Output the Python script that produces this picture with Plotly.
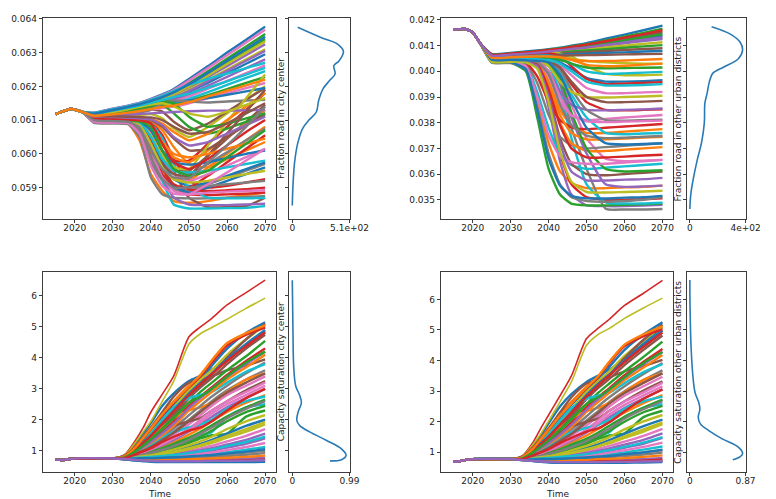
import plotly.graph_objects as go

TAB10 = ["#1f77b4", "#ff7f0e", "#2ca02c", "#d62728", "#9467bd",
         "#8c564b", "#e377c2", "#7f7f7f", "#bcbd22", "#17becf"]

# ---------------- Fraction road in city center (top-left) ----------------
years_cc = [2015, 2019, 2022, 2025, 2030, 2034, 2037, 2040, 2043, 2046, 2050, 2055, 2060, 2065, 2070]
start_cc = [0.06118, 0.06133, 0.06124]
runs_cc = [
    [0.06122, 0.06134, 0.06143, 0.06151, 0.06163, 0.06176, 0.06192, 0.06222, 0.06260, 0.06300, 0.06338, 0.06377],
    [0.06095, 0.06092, 0.06090, 0.06040, 0.05940, 0.05890, 0.05860, 0.05855, 0.05860, 0.05870, 0.05878, 0.05885],
    [0.06120, 0.06130, 0.06140, 0.06148, 0.06158, 0.06170, 0.06185, 0.06210, 0.06245, 0.06282, 0.06318, 0.06355],
    [0.06106, 0.06103, 0.06101, 0.06095, 0.06040, 0.05960, 0.05900, 0.05880, 0.05878, 0.05880, 0.05882, 0.05885],
    [0.06118, 0.06128, 0.06137, 0.06144, 0.06152, 0.06162, 0.06175, 0.06196, 0.06228, 0.06260, 0.06292, 0.06325],
    [0.06104, 0.06102, 0.06100, 0.06098, 0.06092, 0.06040, 0.05950, 0.05870, 0.05842, 0.05842, 0.05845, 0.05870],
    [0.06121, 0.06133, 0.06142, 0.06150, 0.06161, 0.06174, 0.06189, 0.06217, 0.06254, 0.06292, 0.06330, 0.06368],
    [0.06098, 0.06095, 0.06093, 0.06055, 0.05975, 0.05920, 0.05895, 0.05890, 0.05910, 0.05930, 0.05950, 0.05970],
    [0.06118, 0.06127, 0.06135, 0.06142, 0.06150, 0.06159, 0.06170, 0.06190, 0.06220, 0.06250, 0.06280, 0.06310],
    [0.06094, 0.06092, 0.06090, 0.06085, 0.06020, 0.05920, 0.05850, 0.05838, 0.05838, 0.05839, 0.05840, 0.05845],
    [0.06116, 0.06125, 0.06133, 0.06140, 0.06147, 0.06155, 0.06165, 0.06183, 0.06211, 0.06239, 0.06267, 0.06295],
    [0.06100, 0.06097, 0.06095, 0.06065, 0.06000, 0.05950, 0.05925, 0.05922, 0.05960, 0.06000, 0.06040, 0.06080],
    [0.06120, 0.06130, 0.06139, 0.06146, 0.06155, 0.06166, 0.06180, 0.06203, 0.06237, 0.06271, 0.06306, 0.06340],
    [0.06106, 0.06104, 0.06102, 0.06100, 0.06095, 0.06055, 0.05985, 0.05920, 0.05900, 0.05905, 0.05915, 0.05925],
    [0.06116, 0.06124, 0.06131, 0.06137, 0.06144, 0.06152, 0.06160, 0.06176, 0.06202, 0.06228, 0.06254, 0.06280],
    [0.06102, 0.06099, 0.06097, 0.06075, 0.06020, 0.05975, 0.05950, 0.05950, 0.05995, 0.06045, 0.06095, 0.06145],
    [0.06115, 0.06122, 0.06129, 0.06135, 0.06141, 0.06148, 0.06155, 0.06170, 0.06193, 0.06216, 0.06239, 0.06262],
    [0.06092, 0.06090, 0.06088, 0.06050, 0.05930, 0.05880, 0.05870, 0.05868, 0.05868, 0.05870, 0.05872, 0.05875],
    [0.06112, 0.06112, 0.06113, 0.06115, 0.06118, 0.06105, 0.06075, 0.06050, 0.06080, 0.06120, 0.06160, 0.06200],
    [0.06114, 0.06120, 0.06127, 0.06132, 0.06138, 0.06144, 0.06150, 0.06163, 0.06183, 0.06204, 0.06225, 0.06245],
    [0.06100, 0.06098, 0.06097, 0.06092, 0.06050, 0.05975, 0.05925, 0.05905, 0.05915, 0.05935, 0.05955, 0.05975],
    [0.06108, 0.06106, 0.06104, 0.06102, 0.06098, 0.06070, 0.06020, 0.05970, 0.05960, 0.05985, 0.06010, 0.06035],
    [0.06113, 0.06118, 0.06124, 0.06129, 0.06135, 0.06140, 0.06145, 0.06156, 0.06174, 0.06192, 0.06210, 0.06228],
    [0.06104, 0.06101, 0.06099, 0.06082, 0.06040, 0.06000, 0.05980, 0.05980, 0.06030, 0.06080, 0.06130, 0.06180],
    [0.06096, 0.06094, 0.06092, 0.06088, 0.06030, 0.05930, 0.05870, 0.05850, 0.05848, 0.05848, 0.05850, 0.05852],
    [0.06114, 0.06116, 0.06120, 0.06125, 0.06132, 0.06125, 0.06095, 0.06070, 0.06090, 0.06125, 0.06160, 0.06195],
    [0.06112, 0.06116, 0.06121, 0.06126, 0.06131, 0.06136, 0.06140, 0.06150, 0.06165, 0.06180, 0.06195, 0.06210],
    [0.06108, 0.06105, 0.06103, 0.06098, 0.06065, 0.06000, 0.05955, 0.05940, 0.05970, 0.06005, 0.06040, 0.06075],
    [0.06119, 0.06129, 0.06138, 0.06145, 0.06154, 0.06165, 0.06178, 0.06200, 0.06232, 0.06266, 0.06300, 0.06333],
    [0.06100, 0.06098, 0.06096, 0.06095, 0.06090, 0.06045, 0.05970, 0.05900, 0.05870, 0.05868, 0.05868, 0.05870],
    [0.06112, 0.06115, 0.06120, 0.06124, 0.06140, 0.06150, 0.06155, 0.06158, 0.06165, 0.06175, 0.06185, 0.06195],
    [0.06110, 0.06107, 0.06105, 0.06100, 0.06075, 0.06025, 0.05990, 0.05975, 0.06010, 0.06050, 0.06090, 0.06130],
    [0.06115, 0.06120, 0.06126, 0.06132, 0.06140, 0.06145, 0.06120, 0.06080, 0.06060, 0.06075, 0.06095, 0.06115],
    [0.06097, 0.06095, 0.06093, 0.06070, 0.06005, 0.05940, 0.05905, 0.05900, 0.05935, 0.05975, 0.06015, 0.06055],
    [0.06117, 0.06126, 0.06134, 0.06141, 0.06149, 0.06158, 0.06168, 0.06186, 0.06216, 0.06246, 0.06276, 0.06305],
    [0.06110, 0.06108, 0.06106, 0.06104, 0.06100, 0.06080, 0.06045, 0.06010, 0.06015, 0.06050, 0.06085, 0.06120],
    [0.06102, 0.06100, 0.06098, 0.06094, 0.06060, 0.05990, 0.05940, 0.05920, 0.05940, 0.05965, 0.05990, 0.06015],
    [0.06110, 0.06114, 0.06118, 0.06122, 0.06130, 0.06150, 0.06158, 0.06155, 0.06152, 0.06155, 0.06158, 0.06160],
    [0.06106, 0.06103, 0.06101, 0.06093, 0.06055, 0.05995, 0.05960, 0.05955, 0.06025, 0.06095, 0.06165, 0.06235],
    [0.06121, 0.06132, 0.06141, 0.06149, 0.06160, 0.06172, 0.06186, 0.06205, 0.06222, 0.06238, 0.06254, 0.06270],
    [0.06098, 0.06096, 0.06094, 0.06090, 0.06045, 0.05965, 0.05905, 0.05885, 0.05900, 0.05920, 0.05940, 0.05960],
    [0.06112, 0.06110, 0.06108, 0.06106, 0.06103, 0.06090, 0.06065, 0.06040, 0.06060, 0.06100, 0.06140, 0.06180],
    [0.06116, 0.06122, 0.06130, 0.06138, 0.06148, 0.06155, 0.06150, 0.06110, 0.06080, 0.06090, 0.06105, 0.06120],
    [0.06101, 0.06099, 0.06097, 0.06090, 0.06035, 0.05955, 0.05910, 0.05895, 0.05890, 0.05892, 0.05895, 0.05900],
    [0.06110, 0.06112, 0.06115, 0.06118, 0.06120, 0.06122, 0.06124, 0.06126, 0.06128, 0.06128, 0.06129, 0.06130],
    [0.06104, 0.06101, 0.06099, 0.06080, 0.06025, 0.05970, 0.05940, 0.05935, 0.05995, 0.06060, 0.06125, 0.06190],
    [0.06099, 0.06096, 0.06094, 0.06085, 0.06010, 0.05930, 0.05890, 0.05880, 0.05885, 0.05888, 0.05890, 0.05892],
    [0.06101, 0.06098, 0.06096, 0.06070, 0.05990, 0.05925, 0.05900, 0.05900, 0.05905, 0.05910, 0.05915, 0.05920],
    [0.06103, 0.06100, 0.06098, 0.06088, 0.06030, 0.05960, 0.05925, 0.05915, 0.05920, 0.05930, 0.05940, 0.05950],
    [0.06105, 0.06102, 0.06100, 0.06094, 0.06050, 0.05985, 0.05950, 0.05945, 0.05950, 0.05960, 0.05970, 0.05980],
    [0.06107, 0.06104, 0.06102, 0.06097, 0.06070, 0.06010, 0.05975, 0.05968, 0.05975, 0.05988, 0.06000, 0.06010],
    [0.06109, 0.06106, 0.06104, 0.06100, 0.06085, 0.06035, 0.06000, 0.05990, 0.06000, 0.06015, 0.06030, 0.06045],
    [0.06103, 0.06101, 0.06099, 0.06096, 0.06080, 0.06010, 0.05955, 0.05935, 0.05950, 0.05990, 0.06030, 0.06070],
    [0.06105, 0.06103, 0.06101, 0.06099, 0.06090, 0.06030, 0.05975, 0.05955, 0.05985, 0.06025, 0.06065, 0.06100],
    [0.06111, 0.06109, 0.06107, 0.06105, 0.06102, 0.06085, 0.06050, 0.06025, 0.06035, 0.06060, 0.06085, 0.06110],
    [0.06113, 0.06111, 0.06110, 0.06109, 0.06108, 0.06100, 0.06080, 0.06060, 0.06065, 0.06090, 0.06120, 0.06150],
    [0.06095, 0.06093, 0.06091, 0.06060, 0.05965, 0.05905, 0.05882, 0.05880, 0.05910, 0.05945, 0.05980, 0.06015],
    [0.06100, 0.06097, 0.06095, 0.06078, 0.06010, 0.05955, 0.05930, 0.05928, 0.05975, 0.06025, 0.06080, 0.06140],
    [0.06117, 0.06124, 0.06132, 0.06139, 0.06146, 0.06150, 0.06140, 0.06120, 0.06110, 0.06125, 0.06145, 0.06165],
    [0.06118, 0.06128, 0.06136, 0.06143, 0.06151, 0.06160, 0.06168, 0.06178, 0.06196, 0.06215, 0.06235, 0.06255],
    [0.06119, 0.06130, 0.06139, 0.06147, 0.06157, 0.06168, 0.06182, 0.06206, 0.06240, 0.06276, 0.06311, 0.06347],
    [0.06113, 0.06117, 0.06122, 0.06127, 0.06133, 0.06139, 0.06143, 0.06153, 0.06170, 0.06187, 0.06203, 0.06220],
]
kde_cc_value = [0.05847, 0.05905, 0.05973, 0.06031, 0.06075, 0.06100, 0.06124, 0.06158, 0.06193, 0.06217,
                0.06237, 0.06261, 0.06276, 0.06303, 0.06325, 0.06344, 0.06375]
kde_cc_density = [0, 6, 20, 48, 92, 148, 214, 235, 275, 332, 382, 370, 418, 456, 403, 260, 48]

# ---------------- Fraction road in other urban districts (top-right) ----------------
years_od = [2015, 2018, 2020, 2022, 2025, 2030, 2034, 2037, 2040, 2043, 2046, 2050, 2055, 2060, 2065, 2070]
start_od = [0.04162, 0.04165, 0.04152, 0.04108]
runs_od = [
    [0.04068, 0.04072, 0.04077, 0.04081, 0.04086, 0.04092, 0.04100, 0.04110, 0.04127, 0.04143, 0.04160, 0.04178],
    [0.04040, 0.04038, 0.04015, 0.03880, 0.03720, 0.03610, 0.03565, 0.03545, 0.03545, 0.03548, 0.03550, 0.03555],
    [0.04066, 0.04070, 0.04075, 0.04079, 0.04084, 0.04090, 0.04097, 0.04106, 0.04120, 0.04135, 0.04150, 0.04166],
    [0.04040, 0.04040, 0.04038, 0.04020, 0.03880, 0.03680, 0.03560, 0.03510, 0.03500, 0.03500, 0.03502, 0.03505],
    [0.04038, 0.04038, 0.04036, 0.04018, 0.03860, 0.03650, 0.03520, 0.03478, 0.03475, 0.03475, 0.03477, 0.03480],
    [0.04064, 0.04068, 0.04073, 0.04077, 0.04082, 0.04087, 0.04093, 0.04101, 0.04113, 0.04126, 0.04139, 0.04152],
    [0.04044, 0.04044, 0.04042, 0.04040, 0.04033, 0.03980, 0.03870, 0.03740, 0.03660, 0.03650, 0.03652, 0.03655],
    [0.04040, 0.04040, 0.04038, 0.04035, 0.04025, 0.03950, 0.03780, 0.03620, 0.03465, 0.03462, 0.03462, 0.03464],
    [0.04060, 0.04064, 0.04068, 0.04072, 0.04076, 0.04075, 0.04060, 0.04020, 0.03990, 0.03985, 0.03985, 0.03987],
    [0.04042, 0.04040, 0.04025, 0.03920, 0.03780, 0.03680, 0.03635, 0.03620, 0.03625, 0.03630, 0.03635, 0.03640],
    [0.04062, 0.04066, 0.04071, 0.04075, 0.04079, 0.04084, 0.04089, 0.04096, 0.04106, 0.04117, 0.04128, 0.04139],
    [0.04046, 0.04046, 0.04044, 0.04035, 0.03960, 0.03850, 0.03790, 0.03760, 0.03760, 0.03765, 0.03770, 0.03775],
    [0.04036, 0.04034, 0.04000, 0.03820, 0.03620, 0.03520, 0.03485, 0.03478, 0.03478, 0.03480, 0.03482, 0.03485],
    [0.04048, 0.04048, 0.04046, 0.04044, 0.04040, 0.04010, 0.03950, 0.03880, 0.03850, 0.03848, 0.03850, 0.03852],
    [0.04060, 0.04064, 0.04068, 0.04072, 0.04076, 0.04080, 0.04085, 0.04091, 0.04100, 0.04109, 0.04118, 0.04126],
    [0.04042, 0.04042, 0.04040, 0.04025, 0.03910, 0.03740, 0.03640, 0.03600, 0.03595, 0.03600, 0.03605, 0.03610],
    [0.04050, 0.04050, 0.04048, 0.04046, 0.04043, 0.04025, 0.03985, 0.03935, 0.03915, 0.03915, 0.03918, 0.03920],
    [0.04044, 0.04042, 0.04030, 0.03955, 0.03830, 0.03745, 0.03712, 0.03700, 0.03705, 0.03710, 0.03715, 0.03720],
    [0.04058, 0.04062, 0.04066, 0.04069, 0.04073, 0.04077, 0.04081, 0.04086, 0.04093, 0.04100, 0.04107, 0.04113],
    [0.04036, 0.04036, 0.04034, 0.04032, 0.04020, 0.03920, 0.03740, 0.03560, 0.03490, 0.03485, 0.03485, 0.03488],
    [0.04052, 0.04052, 0.04050, 0.04049, 0.04047, 0.04035, 0.04010, 0.03975, 0.03960, 0.03960, 0.03962, 0.03965],
    [0.04044, 0.04044, 0.04042, 0.04030, 0.03940, 0.03800, 0.03720, 0.03690, 0.03690, 0.03695, 0.03700, 0.03705],
    [0.04056, 0.04060, 0.04064, 0.04067, 0.04070, 0.04073, 0.04077, 0.04081, 0.04086, 0.04092, 0.04097, 0.04102],
    [0.04046, 0.04045, 0.04035, 0.03980, 0.03880, 0.03810, 0.03782, 0.03775, 0.03780, 0.03785, 0.03790, 0.03795],
    [0.04042, 0.04042, 0.04040, 0.04038, 0.04030, 0.03960, 0.03820, 0.03680, 0.03560, 0.03550, 0.03552, 0.03555],
    [0.04054, 0.04058, 0.04062, 0.04064, 0.04067, 0.04070, 0.04072, 0.04075, 0.04079, 0.04083, 0.04087, 0.04090],
    [0.04048, 0.04048, 0.04046, 0.04040, 0.03980, 0.03880, 0.03830, 0.03810, 0.03815, 0.03820, 0.03825, 0.03830],
    [0.04034, 0.04032, 0.04010, 0.03860, 0.03680, 0.03560, 0.03510, 0.03495, 0.03492, 0.03495, 0.03500, 0.03510],
    [0.04055, 0.04060, 0.04065, 0.04070, 0.04075, 0.04070, 0.04050, 0.04040, 0.04035, 0.04032, 0.04030, 0.04030],
    [0.04046, 0.04046, 0.04044, 0.04042, 0.04036, 0.03995, 0.03910, 0.03820, 0.03760, 0.03755, 0.03758, 0.03760],
    [0.04052, 0.04056, 0.04059, 0.04061, 0.04063, 0.04065, 0.04067, 0.04069, 0.04072, 0.04074, 0.04077, 0.04079],
    [0.04045, 0.04045, 0.04043, 0.04030, 0.03950, 0.03830, 0.03760, 0.03735, 0.03735, 0.03738, 0.03742, 0.03745],
    [0.04038, 0.04038, 0.04036, 0.04034, 0.04028, 0.03970, 0.03840, 0.03700, 0.03620, 0.03610, 0.03612, 0.03615],
    [0.04058, 0.04062, 0.04066, 0.04070, 0.04072, 0.04060, 0.04020, 0.03970, 0.03950, 0.03952, 0.03955, 0.03958],
    [0.04050, 0.04050, 0.04048, 0.04044, 0.04000, 0.03920, 0.03870, 0.03850, 0.03848, 0.03850, 0.03852, 0.03855],
    [0.04050, 0.04053, 0.04056, 0.04058, 0.04060, 0.04061, 0.04062, 0.04063, 0.04064, 0.04066, 0.04067, 0.04068],
    [0.04040, 0.04038, 0.04020, 0.03900, 0.03750, 0.03670, 0.03645, 0.03640, 0.03640, 0.03645, 0.03650, 0.03655],
    [0.04048, 0.04048, 0.04046, 0.04043, 0.04038, 0.04005, 0.03930, 0.03850, 0.03810, 0.03808, 0.03810, 0.03812],
    [0.04052, 0.04052, 0.04050, 0.04047, 0.04020, 0.03960, 0.03920, 0.03900, 0.03898, 0.03900, 0.03902, 0.03905],
    [0.04054, 0.04056, 0.04058, 0.04060, 0.04060, 0.04050, 0.04030, 0.04000, 0.03990, 0.03992, 0.03995, 0.03998],
    [0.04038, 0.04036, 0.04008, 0.03850, 0.03660, 0.03555, 0.03515, 0.03505, 0.03505, 0.03508, 0.03510, 0.03515],
    [0.04050, 0.04052, 0.04054, 0.04055, 0.04056, 0.04052, 0.04045, 0.04040, 0.04040, 0.04042, 0.04045, 0.04048],
    [0.04047, 0.04049, 0.04051, 0.04052, 0.04053, 0.04045, 0.04030, 0.04015, 0.04012, 0.04013, 0.04014, 0.04015],
    [0.04041, 0.04041, 0.04039, 0.04030, 0.03930, 0.03790, 0.03700, 0.03665, 0.03665, 0.03668, 0.03672, 0.03675],
    [0.04039, 0.04039, 0.04037, 0.04020, 0.03900, 0.03720, 0.03610, 0.03575, 0.03575, 0.03578, 0.03580, 0.03585],
    [0.04049, 0.04049, 0.04047, 0.04045, 0.04041, 0.04015, 0.03960, 0.03900, 0.03880, 0.03880, 0.03882, 0.03885],
    [0.04047, 0.04047, 0.04045, 0.04040, 0.04000, 0.03900, 0.03830, 0.03805, 0.03802, 0.03804, 0.03806, 0.03808],
    [0.04043, 0.04043, 0.04041, 0.04036, 0.03990, 0.03870, 0.03790, 0.03750, 0.03740, 0.03742, 0.03745, 0.03748],
    [0.04037, 0.04037, 0.04035, 0.04010, 0.03880, 0.03690, 0.03570, 0.03530, 0.03528, 0.03530, 0.03532, 0.03535],
    [0.04051, 0.04051, 0.04049, 0.04047, 0.04044, 0.04030, 0.04000, 0.03960, 0.03945, 0.03945, 0.03947, 0.03950],
    [0.04045, 0.04045, 0.04043, 0.04041, 0.04035, 0.03985, 0.03890, 0.03780, 0.03720, 0.03715, 0.03717, 0.03720],
    [0.04053, 0.04055, 0.04057, 0.04058, 0.04058, 0.04055, 0.04045, 0.04025, 0.04020, 0.04022, 0.04026, 0.04030],
    [0.04063, 0.04067, 0.04071, 0.04075, 0.04080, 0.04085, 0.04090, 0.04098, 0.04108, 0.04120, 0.04132, 0.04145],
    [0.04065, 0.04069, 0.04074, 0.04078, 0.04083, 0.04088, 0.04095, 0.04104, 0.04117, 0.04131, 0.04145, 0.04160],
    [0.04061, 0.04065, 0.04069, 0.04073, 0.04077, 0.04082, 0.04087, 0.04093, 0.04103, 0.04113, 0.04123, 0.04132],
]
kde_od_value = [0.03464, 0.03522, 0.03579, 0.03657, 0.03722, 0.03799, 0.03876, 0.03914, 0.03959, 0.03992,
                0.04017, 0.04049, 0.04084, 0.04114, 0.04146, 0.04174]
kde_od_density = [0, 7, 24, 54, 84, 104, 108, 124, 140, 164, 244, 348, 379, 360, 288, 156]

# ---------------- Capacity saturation city center (bottom-left) ----------------
years_cs = [2015, 2017, 2019, 2030, 2033, 2036, 2038, 2040, 2043, 2046, 2050, 2053, 2056, 2060, 2065, 2070]
start_cc_sat = [0.71, 0.70, 0.74, 0.75]
runs_cc_sat = [
    [0.84, 1.25, 1.55, 1.90, 2.45, 2.85, 3.25, 3.42, 3.62, 3.95, 4.40, 4.85],
    [0.82, 1.15, 1.45, 1.75, 2.20, 2.60, 3.10, 3.40, 3.90, 4.45, 4.75, 5.00],
    [0.74, 0.80, 0.85, 0.90, 0.98, 1.08, 1.25, 1.40, 1.50, 1.55, 2.10, 2.30],
    [0.86, 1.35, 1.75, 2.25, 2.83, 3.42, 4.68, 5.00, 5.28, 5.71, 6.11, 6.51],
    [0.73, 0.72, 0.71, 0.70, 0.70, 0.70, 0.70, 0.71, 0.71, 0.72, 0.74, 0.77],
    [0.79, 1.02, 1.22, 1.42, 1.80, 2.20, 2.70, 3.05, 3.35, 3.80, 4.30, 4.75],
    [0.74, 0.78, 0.80, 0.82, 0.86, 0.91, 0.99, 1.07, 1.16, 1.30, 1.48, 1.70],
    [0.76, 0.91, 1.02, 1.15, 1.38, 1.62, 2.00, 2.30, 2.60, 2.95, 3.30, 3.60],
    [0.84, 1.28, 1.62, 1.95, 2.60, 3.25, 4.45, 4.78, 4.98, 5.25, 5.60, 5.93],
    [0.74, 0.75, 0.76, 0.77, 0.78, 0.80, 0.83, 0.86, 0.89, 0.95, 1.03, 1.12],
    [0.80, 1.10, 1.38, 1.65, 2.10, 2.50, 3.00, 3.35, 3.75, 4.30, 4.80, 5.15],
    [0.75, 0.84, 0.91, 0.99, 1.12, 1.28, 1.52, 1.72, 1.95, 2.25, 2.55, 2.80],
    [0.72, 0.69, 0.67, 0.66, 0.65, 0.65, 0.65, 0.65, 0.65, 0.65, 0.66, 0.67],
    [0.78, 0.98, 1.14, 1.30, 1.60, 1.95, 2.45, 2.75, 3.05, 3.45, 3.90, 4.30],
    [0.74, 0.76, 0.78, 0.79, 0.82, 0.85, 0.90, 0.95, 1.00, 1.10, 1.22, 1.40],
    [0.82, 1.15, 1.45, 1.75, 2.25, 2.75, 3.20, 3.30, 3.40, 3.60, 3.75, 3.95],
    [0.76, 0.89, 0.99, 1.10, 1.30, 1.52, 1.85, 2.15, 2.45, 2.80, 3.10, 3.40],
    [0.74, 0.74, 0.74, 0.74, 0.75, 0.76, 0.77, 0.78, 0.80, 0.83, 0.87, 0.92],
    [0.80, 1.08, 1.32, 1.58, 2.00, 2.40, 2.95, 3.30, 3.60, 4.10, 4.60, 5.05],
    [0.75, 0.82, 0.88, 0.94, 1.05, 1.18, 1.38, 1.50, 1.60, 2.10, 2.40, 2.50],
    [0.74, 0.79, 0.83, 0.86, 0.92, 1.00, 1.12, 1.22, 1.35, 1.55, 1.80, 2.00],
    [0.78, 1.00, 1.20, 1.40, 1.75, 2.05, 2.30, 2.40, 2.55, 2.90, 3.30, 3.50],
    [0.78, 1.00, 1.18, 1.36, 1.70, 2.05, 2.55, 2.90, 3.20, 3.60, 4.05, 4.55],
    [0.73, 0.71, 0.69, 0.68, 0.67, 0.67, 0.67, 0.67, 0.68, 0.68, 0.69, 0.71],
    [0.75, 0.85, 0.93, 1.02, 1.18, 1.35, 1.62, 1.85, 2.10, 2.40, 2.70, 3.00],
    [0.78, 0.98, 1.15, 1.35, 1.70, 2.10, 2.70, 3.10, 3.45, 4.00, 4.60, 5.10],
    [0.74, 0.76, 0.77, 0.78, 0.80, 0.82, 0.86, 0.90, 0.94, 1.02, 1.12, 1.25],
    [0.77, 0.93, 1.06, 1.20, 1.45, 1.72, 2.15, 2.45, 2.75, 3.10, 3.50, 3.85],
    [0.74, 0.80, 0.84, 0.88, 0.95, 1.04, 1.18, 1.30, 1.45, 1.70, 1.95, 2.15],
    [0.80, 1.05, 1.30, 1.55, 2.00, 2.40, 2.70, 2.80, 2.90, 3.20, 3.55, 3.80],
    [0.79, 1.05, 1.28, 1.50, 1.90, 2.30, 2.85, 3.20, 3.50, 3.95, 4.45, 4.90],
    [0.74, 0.73, 0.72, 0.72, 0.72, 0.72, 0.73, 0.74, 0.75, 0.77, 0.80, 0.84],
    [0.75, 0.83, 0.89, 0.96, 1.08, 1.22, 1.42, 1.60, 1.82, 2.10, 2.40, 2.65],
    [0.81, 1.12, 1.40, 1.70, 2.15, 2.55, 3.05, 3.40, 3.85, 4.40, 4.75, 4.98],
    [0.74, 0.77, 0.79, 0.81, 0.84, 0.88, 0.95, 1.01, 1.08, 1.20, 1.35, 1.55],
    [0.77, 0.95, 1.12, 1.30, 1.60, 1.80, 1.95, 2.05, 2.30, 2.60, 2.95, 3.25],
    [0.76, 0.87, 0.96, 1.06, 1.24, 1.43, 1.72, 2.00, 2.30, 2.60, 2.90, 3.20],
    [0.74, 0.75, 0.75, 0.76, 0.77, 0.78, 0.80, 0.82, 0.84, 0.88, 0.94, 1.00],
    [0.74, 0.78, 0.81, 0.84, 0.89, 0.95, 1.05, 1.15, 1.25, 1.42, 1.62, 1.85],
    [0.76, 0.92, 1.05, 1.20, 1.45, 1.60, 1.75, 1.85, 2.00, 2.35, 2.60, 2.75],
    [0.72, 0.68, 0.66, 0.64, 0.63, 0.63, 0.63, 0.63, 0.63, 0.63, 0.63, 0.64],
    [0.77, 0.95, 1.10, 1.25, 1.50, 1.80, 2.30, 2.60, 2.90, 3.30, 3.70, 4.10],
    [0.75, 0.81, 0.86, 0.92, 1.02, 1.12, 1.30, 1.45, 1.65, 1.95, 2.25, 2.45],
    [0.79, 1.03, 1.25, 1.48, 1.88, 2.28, 2.80, 3.15, 3.48, 3.90, 4.38, 4.82],
    [0.77, 0.96, 1.12, 1.28, 1.56, 1.88, 2.38, 2.70, 3.00, 3.38, 3.80, 4.20],
    [0.76, 0.90, 1.00, 1.12, 1.34, 1.58, 1.95, 2.25, 2.55, 2.88, 3.20, 3.50],
    [0.75, 0.86, 0.95, 1.04, 1.21, 1.40, 1.68, 1.92, 2.20, 2.50, 2.80, 3.10],
    [0.75, 0.82, 0.87, 0.93, 1.03, 1.15, 1.35, 1.55, 1.75, 2.05, 2.35, 2.60],
    [0.74, 0.79, 0.82, 0.85, 0.90, 0.97, 1.08, 1.18, 1.30, 1.48, 1.70, 1.92],
    [0.74, 0.77, 0.78, 0.80, 0.83, 0.86, 0.92, 0.98, 1.04, 1.15, 1.28, 1.45],
    [0.74, 0.75, 0.76, 0.76, 0.77, 0.79, 0.81, 0.84, 0.86, 0.91, 0.97, 1.05],
    [0.81, 1.12, 1.42, 1.72, 2.18, 2.58, 3.08, 3.45, 3.92, 4.48, 4.80, 5.05],
    [0.78, 0.99, 1.17, 1.37, 1.72, 2.08, 2.55, 2.75, 3.00, 3.40, 3.85, 4.20],
    [0.76, 0.88, 0.98, 1.08, 1.28, 1.45, 1.65, 1.75, 1.95, 2.30, 2.70, 3.00],
    [0.73, 0.70, 0.68, 0.67, 0.66, 0.66, 0.66, 0.66, 0.67, 0.67, 0.68, 0.69],
]
kde_ccs_value = [0.67, 0.71, 0.85, 1.06, 1.33, 1.60, 1.81, 1.97, 2.24, 2.56, 2.83, 3.09, 3.73, 4.80, 6.51]
kde_ccs_density = [0.653, 0.851, 0.931, 0.851, 0.594, 0.307, 0.129, 0.079, 0.099, 0.158, 0.119, 0.059, 0.024, 0.012, 0.0]

# ---------------- Capacity saturation other urban districts (bottom-right) ----------------
start_od_sat = [0.69, 0.72, 0.77, 0.78]
runs_od_sat = [
    [0.85, 1.25, 1.55, 1.95, 2.50, 2.90, 3.30, 3.50, 3.70, 4.05, 4.55, 5.10],
    [0.84, 1.18, 1.48, 1.78, 2.25, 2.65, 3.15, 3.45, 3.95, 4.50, 4.82, 5.08],
    [0.76, 0.82, 0.87, 0.92, 1.00, 1.11, 1.28, 1.44, 1.55, 1.62, 2.15, 2.36],
    [0.88, 1.35, 1.80, 2.22, 2.85, 3.50, 4.72, 5.05, 5.35, 5.80, 6.20, 6.62],
    [0.76, 0.75, 0.74, 0.73, 0.73, 0.73, 0.73, 0.74, 0.75, 0.76, 0.78, 0.82],
    [0.81, 1.04, 1.24, 1.45, 1.83, 2.23, 2.74, 3.10, 3.40, 3.85, 4.35, 4.82],
    [0.76, 0.80, 0.82, 0.84, 0.88, 0.94, 1.02, 1.11, 1.21, 1.35, 1.54, 1.77],
    [0.78, 0.93, 1.04, 1.17, 1.40, 1.65, 2.04, 2.34, 2.65, 3.00, 3.36, 3.68],
    [0.86, 1.28, 1.62, 2.02, 2.65, 3.30, 4.50, 4.85, 5.05, 5.38, 5.72, 6.04],
    [0.76, 0.77, 0.78, 0.79, 0.80, 0.83, 0.86, 0.90, 0.93, 1.00, 1.09, 1.19],
    [0.82, 1.12, 1.40, 1.68, 2.12, 2.55, 3.05, 3.40, 3.80, 4.35, 4.85, 5.25],
    [0.77, 0.86, 0.93, 1.01, 1.14, 1.31, 1.55, 1.76, 2.00, 2.30, 2.61, 2.87],
    [0.75, 0.72, 0.70, 0.69, 0.68, 0.68, 0.68, 0.68, 0.68, 0.69, 0.70, 0.72],
    [0.80, 1.00, 1.16, 1.32, 1.62, 1.97, 2.48, 2.80, 3.10, 3.52, 3.96, 4.38],
    [0.76, 0.78, 0.80, 0.81, 0.84, 0.88, 0.93, 0.99, 1.05, 1.15, 1.28, 1.47],
    [0.84, 1.18, 1.48, 1.78, 2.30, 2.80, 3.25, 3.35, 3.45, 3.65, 3.82, 4.02],
    [0.78, 0.91, 1.01, 1.12, 1.32, 1.55, 1.88, 2.19, 2.50, 2.85, 3.16, 3.47],
    [0.76, 0.76, 0.76, 0.76, 0.77, 0.79, 0.80, 0.82, 0.84, 0.88, 0.93, 0.99],
    [0.82, 1.10, 1.35, 1.60, 2.02, 2.42, 2.98, 3.32, 3.65, 4.15, 4.65, 5.12],
    [0.77, 0.84, 0.90, 0.96, 1.07, 1.21, 1.41, 1.54, 1.66, 2.15, 2.45, 2.57],
    [0.76, 0.81, 0.85, 0.88, 0.94, 1.03, 1.15, 1.26, 1.40, 1.60, 1.86, 2.07],
    [0.80, 1.03, 1.23, 1.44, 1.79, 2.10, 2.35, 2.45, 2.62, 2.97, 3.37, 3.58],
    [0.80, 1.02, 1.20, 1.38, 1.72, 2.08, 2.58, 2.94, 3.25, 3.65, 4.12, 4.62],
    [0.75, 0.74, 0.72, 0.71, 0.70, 0.70, 0.70, 0.71, 0.72, 0.72, 0.73, 0.76],
    [0.77, 0.87, 0.95, 1.04, 1.20, 1.38, 1.65, 1.89, 2.15, 2.45, 2.76, 3.06],
    [0.80, 1.01, 1.18, 1.38, 1.74, 2.15, 2.76, 3.16, 3.52, 4.08, 4.68, 5.18],
    [0.76, 0.78, 0.79, 0.80, 0.82, 0.85, 0.89, 0.94, 0.99, 1.07, 1.18, 1.32],
    [0.79, 0.95, 1.08, 1.22, 1.47, 1.75, 2.18, 2.50, 2.80, 3.16, 3.56, 3.92],
    [0.76, 0.82, 0.86, 0.90, 0.97, 1.07, 1.21, 1.34, 1.50, 1.75, 2.01, 2.22],
    [0.82, 1.08, 1.33, 1.58, 2.04, 2.44, 2.75, 2.85, 2.95, 3.26, 3.62, 3.88],
    [0.81, 1.07, 1.30, 1.52, 1.92, 2.32, 2.88, 3.24, 3.55, 4.00, 4.50, 4.98],
    [0.76, 0.75, 0.75, 0.75, 0.75, 0.75, 0.76, 0.78, 0.79, 0.81, 0.85, 0.90],
    [0.77, 0.85, 0.91, 0.98, 1.10, 1.25, 1.45, 1.64, 1.87, 2.16, 2.46, 2.72],
    [0.83, 1.15, 1.43, 1.74, 2.20, 2.60, 3.10, 3.45, 3.92, 4.47, 4.80, 5.02],
    [0.76, 0.79, 0.81, 0.83, 0.86, 0.91, 0.98, 1.05, 1.13, 1.25, 1.41, 1.62],
    [0.79, 0.98, 1.15, 1.33, 1.64, 1.84, 2.00, 2.10, 2.36, 2.67, 3.02, 3.32],
    [0.78, 0.89, 0.98, 1.08, 1.26, 1.46, 1.75, 2.04, 2.35, 2.66, 2.96, 3.27],
    [0.76, 0.77, 0.77, 0.78, 0.79, 0.81, 0.83, 0.86, 0.88, 0.93, 1.00, 1.07],
    [0.76, 0.80, 0.83, 0.86, 0.91, 0.98, 1.08, 1.19, 1.30, 1.47, 1.68, 1.92],
    [0.78, 0.95, 1.08, 1.23, 1.49, 1.65, 1.80, 1.90, 2.06, 2.42, 2.67, 2.82],
    [0.75, 0.71, 0.69, 0.67, 0.66, 0.66, 0.66, 0.66, 0.66, 0.66, 0.67, 0.68],
    [0.79, 0.97, 1.12, 1.27, 1.52, 1.82, 2.33, 2.64, 2.95, 3.36, 3.77, 4.18],
    [0.77, 0.83, 0.88, 0.94, 1.04, 1.15, 1.33, 1.49, 1.70, 2.00, 2.31, 2.52],
    [0.81, 1.05, 1.27, 1.50, 1.90, 2.30, 2.83, 3.18, 3.52, 3.95, 4.45, 4.92],
    [0.79, 0.98, 1.14, 1.30, 1.58, 1.90, 2.40, 2.73, 3.05, 3.44, 3.88, 4.28],
    [0.78, 0.92, 1.02, 1.14, 1.36, 1.60, 1.98, 2.28, 2.60, 2.94, 3.27, 3.58],
    [0.77, 0.88, 0.97, 1.06, 1.23, 1.42, 1.70, 1.95, 2.24, 2.55, 2.86, 3.16],
    [0.77, 0.84, 0.89, 0.95, 1.05, 1.17, 1.37, 1.57, 1.78, 2.10, 2.41, 2.67],
    [0.76, 0.81, 0.84, 0.87, 0.92, 0.99, 1.10, 1.20, 1.33, 1.52, 1.75, 1.98],
    [0.76, 0.79, 0.80, 0.82, 0.85, 0.88, 0.94, 1.00, 1.07, 1.18, 1.32, 1.50],
    [0.76, 0.77, 0.78, 0.78, 0.79, 0.81, 0.83, 0.86, 0.88, 0.94, 1.00, 1.09],
    [0.83, 1.14, 1.44, 1.74, 2.20, 2.60, 3.12, 3.48, 3.96, 4.52, 4.86, 5.12],
    [0.80, 1.01, 1.19, 1.39, 1.74, 2.10, 2.58, 2.80, 3.05, 3.46, 3.92, 4.28],
    [0.78, 0.90, 1.00, 1.10, 1.30, 1.47, 1.68, 1.78, 1.98, 2.34, 2.75, 3.06],
    [0.75, 0.72, 0.70, 0.69, 0.68, 0.68, 0.68, 0.68, 0.69, 0.69, 0.70, 0.71],
]
kde_ods_value = [0.76, 0.85, 0.96, 1.17, 1.44, 1.71, 1.93, 2.14, 2.42, 2.63, 2.95, 3.39, 4.36, 5.76, 6.63]
kde_ods_density = [0.670, 0.783, 0.824, 0.757, 0.505, 0.296, 0.165, 0.131, 0.157, 0.139, 0.082, 0.052, 0.021, 0.003, 0.0]

# indices (in the bottom lists) of the two outlying runs drawn thinner
outlier_runs = [3, 8]

# ---------------- layout geometry (pixels of the 776x499 canvas) ----------------
W, H = 776, 499
FONT = "DejaVu Sans"
TXT = "#222222"
EDGE = "#3c3c3c"
LW = 2.4


def px_x(a, b):
    return [a / W, b / W]


def px_y(top, bottom):
    return [1 - bottom / H, 1 - top / H]


fig = go.Figure()


def add_runs(years, start, runs, xa, ya, smooth, thin=()):
    for i, r in enumerate(runs):
        fig.add_trace(go.Scatter(
            x=years, y=start + r, mode="lines",
            line=dict(color=TAB10[i % 10], width=1.6 if i in thin else LW,
                      shape="spline", smoothing=smooth),
            xaxis=xa, yaxis=ya, hoverinfo="skip", showlegend=False))


def add_kde(dens, vals, xa, ya):
    fig.add_trace(go.Scatter(
        x=dens, y=vals, mode="lines",
        line=dict(color="#2a7ab5", width=1.6, shape="spline", smoothing=1.0),
        xaxis=xa, yaxis=ya, hoverinfo="skip", showlegend=False))


add_runs(years_cc, start_cc, runs_cc, "x", "y", 0.5)
add_kde(kde_cc_density, kde_cc_value, "x2", "y2")
add_runs(years_od, start_od, runs_od, "x3", "y3", 0.5)
add_kde(kde_od_density, kde_od_value, "x4", "y4")
add_runs(years_cs, start_cc_sat, runs_cc_sat, "x5", "y5", 0.7, outlier_runs)
add_kde(kde_ccs_density, kde_ccs_value, "x6", "y6")
add_runs(years_cs, start_od_sat, runs_od_sat, "x7", "y7", 0.7, outlier_runs)
add_kde(kde_ods_density, kde_ods_value, "x8", "y8")

base = dict(showline=True, linecolor=EDGE, linewidth=1, mirror=True,
            ticks="outside", ticklen=3.5, tickwidth=1, tickcolor=EDGE,
            showgrid=False, zeroline=False,
            tickfont=dict(family=FONT, size=9, color=TXT))

year_ticks = [2020, 2030, 2040, 2050, 2060, 2070]
yticks_cc = [0.059, 0.060, 0.061, 0.062, 0.063, 0.064]
yticks_od = [0.035, 0.036, 0.037, 0.038, 0.039, 0.040, 0.041, 0.042]
yticks_sat = [1, 2, 3, 4, 5, 6]

top_y = px_y(14.3, 216.7)
bot_y = px_y(270, 471.7)
left_main = px_x(44.3, 282.7)
left_side = px_x(296.7, 358.3)
right_main = px_x(452.3, 690)
right_side = px_x(704.3, 764.3)

panels = [
    (1, left_main, left_side, top_y, [0.05807, 0.06402], yticks_cc, ".3f", 510, "5.1e+02"),
    (3, right_main, right_side, top_y, [0.03425, 0.04207], yticks_od, ".3f", 400, "4e+02"),
    (5, left_main, left_side, bot_y, [0.314, 6.78], yticks_sat, "d", 0.99, "0.99"),
    (7, right_main, right_side, bot_y, [0.36, 6.90], yticks_sat, "d", 0.87, "0.87"),
]

lay = {}
for n, mdom, sdom, ydom, yr, yt, fmt, smax, slab in panels:
    mx = "xaxis" if n == 1 else "xaxis%d" % n
    my = "yaxis" if n == 1 else "yaxis%d" % n
    sx = "xaxis%d" % (n + 1)
    sy = "yaxis%d" % (n + 1)
    lay[mx] = dict(base, domain=mdom, range=[2011.7, 2072.8], tickvals=year_ticks,
                   ticklabelstandoff=-3, anchor="y" if n == 1 else "y%d" % n)
    lay[my] = dict(base, domain=ydom, range=yr, tickvals=yt, tickformat=fmt,
                   anchor="x" if n == 1 else "x%d" % n)
    lay[sx] = dict(base, domain=sdom, range=[-0.05 * smax, smax * 1.0005],
                   tickvals=[0, smax], ticktext=["0", slab], ticklabelstandoff=-3,
                   anchor="y%d" % (n + 1))
    lay[sy] = dict(base, domain=ydom, range=yr, tickvals=yt, showticklabels=False,
                   anchor="x%d" % (n + 1))

annotations = []
side_labels = [
    ("Fraction road in city center", 287.5, top_y),
    ("Fraction road in other urban districts", 695.0, top_y),
    ("Capacity saturation city center", 287.5, bot_y),
    ("Capacity saturation other urban districts", 695.0, bot_y),
]
for text, xp, ydom in side_labels:
    annotations.append(dict(text=text, x=xp / W, y=(ydom[0] + ydom[1]) / 2,
                            xref="paper", yref="paper", showarrow=False,
                            textangle=-90, xanchor="center", yanchor="middle",
                            font=dict(family=FONT, size=9, color=TXT)))
for cx in [(44.3 + 282.7) / 2, (452.3 + 690) / 2]:
    annotations.append(dict(text="Time", x=cx / W, y=1 - 493.5 / H, xref="paper", yref="paper",
                            showarrow=False, xanchor="center", yanchor="middle",
                            font=dict(family=FONT, size=9, color=TXT)))

fig.update_layout(
    width=W, height=H, margin=dict(l=0, r=0, t=0, b=0),
    paper_bgcolor="white", plot_bgcolor="white",
    showlegend=False, annotations=annotations,
    font=dict(family=FONT, size=9, color=TXT),
    **lay)

# the page body gets no default 8px margin, so the figure sits at the window's corner
fig.write_html("out.html", config={"displayModeBar": False},
               post_script="document.body.style.margin='0';document.body.style.overflow='hidden';")
